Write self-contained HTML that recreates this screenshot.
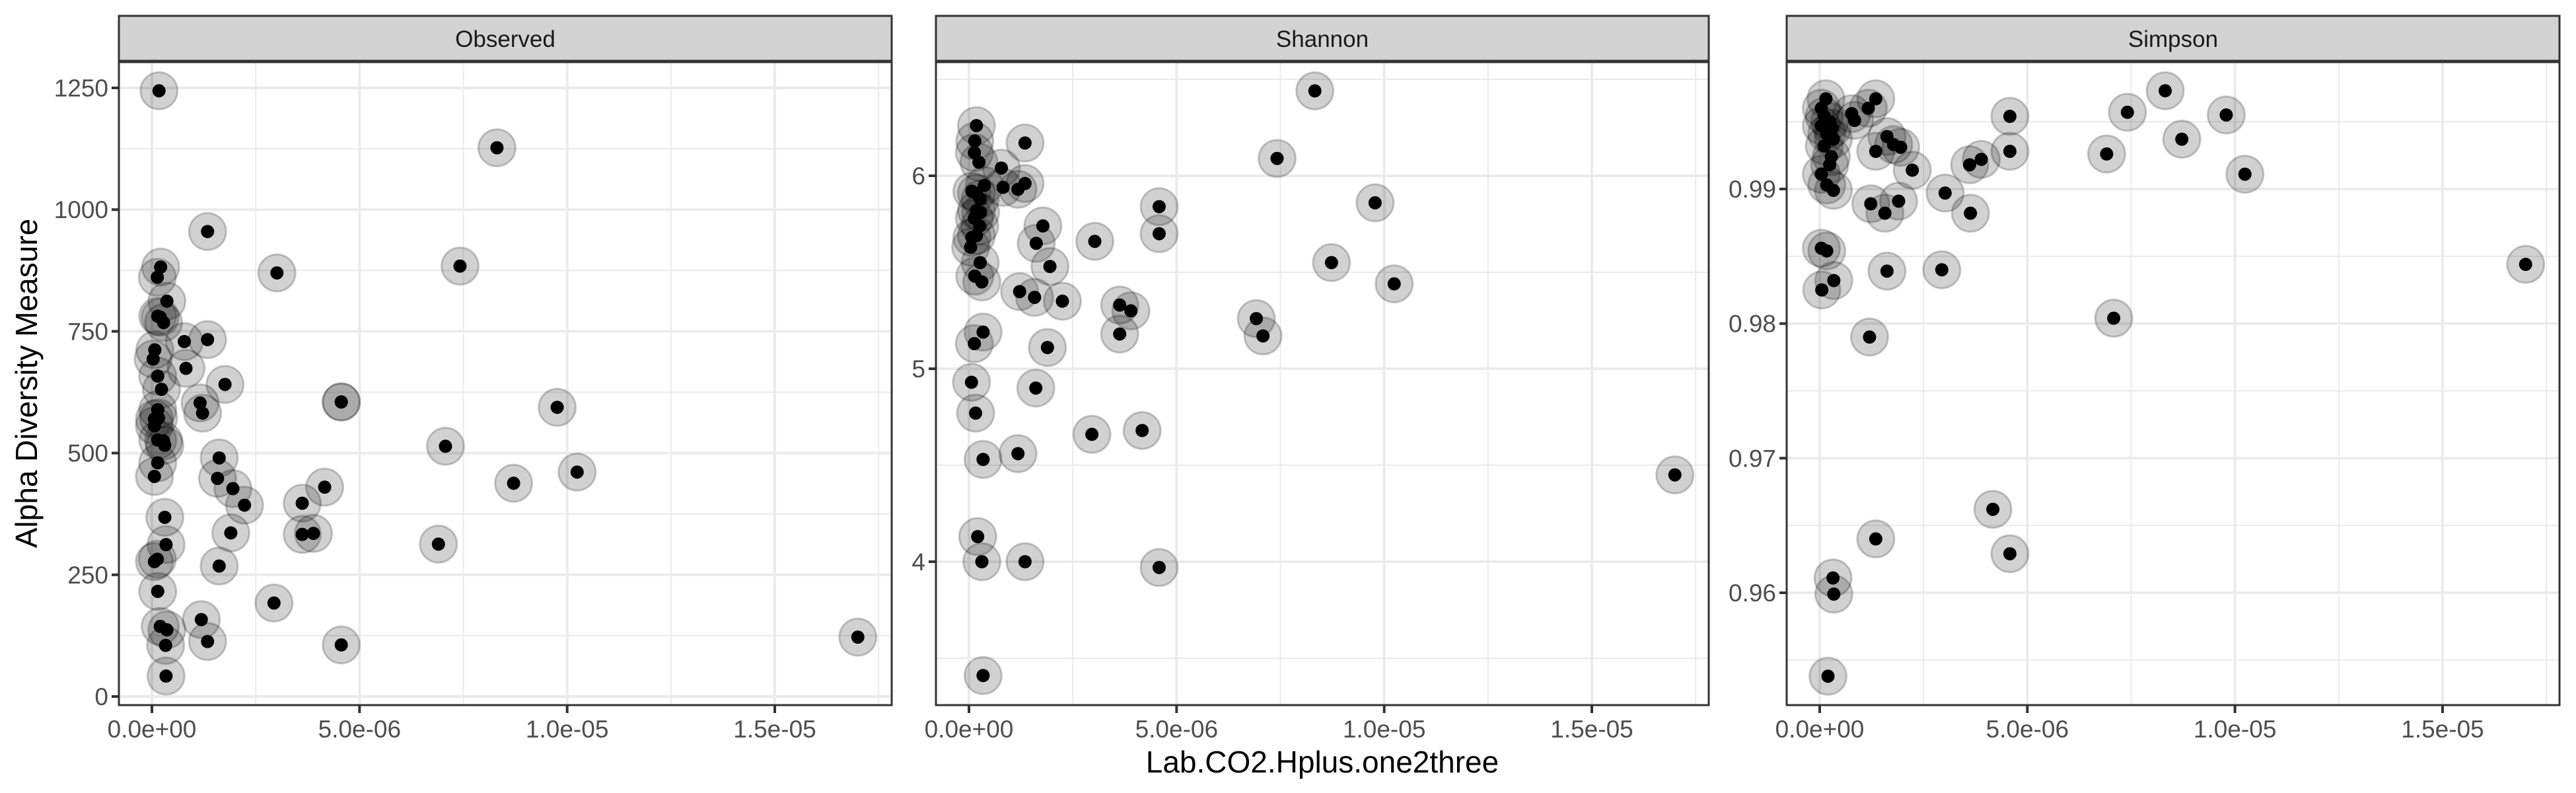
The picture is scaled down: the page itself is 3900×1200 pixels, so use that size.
<!DOCTYPE html>
<html><head><meta charset="utf-8"><style>
html,body{margin:0;padding:0;background:#fff;}
svg{display:block;font-family:"Liberation Sans",sans-serif;}
</style></head><body>
<svg id="chart" width="3900" height="1200" viewBox="0 0 3900 1200"></svg>
<script>
// x values in units of 1e-6
const obsX=[0.17,8.31,1.34,0.21,0.13,3.01,7.42,0.36,0.14,0.2,0.28,0.78,1.34,0.07,0.03,0.82,0.14,0.23,1.76,4.56,4.56,9.76,1.16,1.22,0.14,0.06,0.16,0.06,0.14,0.28,0.31,7.07,1.62,0.14,0.06,1.58,10.24,8.71,4.16,1.95,2.23,3.62,0.31,1.9,3.62,3.89,6.9,0.34,0.06,0.13,1.62,0.14,2.94,1.19,0.2,0.36,1.34,0.33,4.56,17.0,0.34];
const obsY=[1244,1127,955,882,861,870,884,812,781,779,768,729,733,712,693,674,658,631,641,605,605,594,603,582,589,570,572,556,527,525,516,514,490,480,452,448,461,438,430,427,393,397,368,336,333,335,313,312,277,282,268,216,192,158,144,137,113,105,106,122,42];
const shaX=[8.33,0.18,0.14,1.35,7.42,0.13,0.24,0.78,0.82,1.18,1.35,0.37,0.07,0.18,0.27,4.58,9.78,0.18,0.28,0.13,0.26,1.78,4.58,3.03,1.62,0.07,0.04,0.18,1.95,0.27,8.73,0.14,0.31,10.24,1.22,1.58,2.25,3.63,3.9,6.92,7.08,3.63,0.34,0.13,1.89,0.06,1.61,0.16,4.17,2.96,1.18,0.34,17.0,0.21,0.31,1.35,4.58,0.34];
const shaY=[6.44,6.26,6.18,6.17,6.09,6.12,6.07,6.04,5.94,5.93,5.96,5.95,5.92,5.91,5.88,5.84,5.86,5.82,5.81,5.78,5.74,5.74,5.70,5.66,5.65,5.68,5.63,5.69,5.53,5.55,5.55,5.48,5.45,5.44,5.40,5.37,5.35,5.33,5.30,5.26,5.17,5.18,5.19,5.13,5.11,4.93,4.90,4.77,4.68,4.66,4.56,4.53,4.45,4.13,4.00,4.00,3.97,3.41];
const simX=[8.32,7.41,9.79,4.58,1.35,1.17,0.15,0.04,0.11,0.24,0.77,0.84,0.04,0.3,0.17,0.33,1.62,1.78,1.95,0.11,8.72,1.35,4.58,6.91,3.89,3.61,0.28,0.24,2.23,10.24,0.04,0.17,0.33,3.02,1.23,1.9,1.57,3.63,0.04,0.17,17.0,1.62,2.94,0.34,0.05,7.08,1.2,4.17,4.58,1.35,0.32,0.34,0.2];
const simY=[0.9973,0.9957,0.9955,0.9954,0.9967,0.9960,0.9967,0.9960,0.9954,0.9950,0.9956,0.9951,0.9947,0.9945,0.9941,0.9937,0.9939,0.9933,0.9931,0.9932,0.9937,0.9928,0.9928,0.9926,0.9922,0.9918,0.9924,0.9918,0.9914,0.9911,0.9911,0.9903,0.9899,0.9897,0.9889,0.9891,0.9882,0.9882,0.9856,0.9854,0.9844,0.9839,0.9840,0.9832,0.9825,0.9804,0.9790,0.9662,0.9629,0.9640,0.9611,0.9599,0.9538];
const xTicks=[0,5,10,15];
const xTickLabels=["0.0e+00","5.0e-06","1.0e-05","1.5e-05"];
const obsTicks=[0,250,500,750,1000,1250];
const obsTickLabels=["0","250","500","750","1000","1250"];
const shaTicks=[4,5,6];
const shaTickLabels=["4","5","6"];
const simTicks=[0.96,0.97,0.98,0.99];
const simTickLabels=["0.96","0.97","0.98","0.99"];

const NS="http://www.w3.org/2000/svg";
const svg=document.getElementById('chart');
function mk(tag,attrs,parent){const e=document.createElementNS(NS,tag);for(const k in attrs)e.setAttribute(k,attrs[k]);(parent||svg).appendChild(e);return e;}
const TOP=94,BOT=1067,STRIP_TOP=24;
const PXPERX=943/15;
const panels=[
 {name:'observed',title:'Observed',left:180,xs:obsX,ys:obsY,ticks:obsTicks,labels:obsTickLabels,y0:0,py0:1054,scale:921/1250,minorStep:125},
 {name:'shannon',title:'Shannon',left:1417,xs:shaX,ys:shaY,ticks:shaTicks,labels:shaTickLabels,y0:6,py0:266,scale:292,minorStep:0.5},
 {name:'simpson',title:'Simpson',left:2705,xs:simX,ys:simY,ticks:simTicks,labels:simTickLabels,y0:0.99,py0:286,scale:20367,minorStep:0.005}
];
const W=1170;
panels.forEach(p=>{
  const g=mk('g',{});
  
  
  const xs=v=>p.left+50+v*PXPERX;
  const ys=v=>p.py0-(v-p.y0)*p.scale;
  const vmin=p.y0-(BOT-p.py0)/p.scale, vmax=p.y0+(p.py0-TOP)/p.scale;
  const gg=mk('g',{},g);
  
  
  const st=p.minorStep;
  for(let k=Math.ceil(vmin/st);k*st<=vmax;k++){
    const v=k*st;const isMajor=p.ticks.some(t=>Math.abs(t-v)<st/10);
    const y=ys(v);
    mk('line',{x1:p.left,x2:p.left+W,y1:y,y2:y,stroke:'#ebebeb','stroke-width':isMajor?4:2},gg);
  }
  for(let v=-2.5;v<=20;v+=2.5){
    const x=xs(v);if(x<p.left||x>p.left+W)continue;
    const isMajor=xTicks.includes(v);
    mk('line',{x1:x,x2:x,y1:TOP,y2:BOT,stroke:'#ebebeb','stroke-width':isMajor?4:2},gg);
  }
  const pg=mk('g',{},g);
  
  
  for(let i=0;i<p.xs.length;i++){
    const c=mk('circle',{cx:xs(p.xs[i]),cy:ys(p.ys[i]),r:28,fill:'rgba(0,0,0,0.18)',stroke:'rgba(0,0,0,0.2)','stroke-width':3},pg);
    
    
  }
  for(let i=0;i<p.xs.length;i++){
    const c=mk('circle',{cx:xs(p.xs[i]),cy:ys(p.ys[i]),r:10,fill:'#000'},pg);
    
    
  }
  const b=mk('rect',{x:p.left,y:TOP,width:W,height:BOT-TOP,fill:'none',stroke:'#333','stroke-width':3},g);
  
  
  const s=mk('rect',{x:p.left,y:STRIP_TOP,width:W,height:TOP-STRIP_TOP-2,fill:'#d3d3d3',stroke:'#333','stroke-width':3},g);
  
  
  const stx=mk('text',{x:p.left+W/2,y:71,'text-anchor':'middle','font-size':35,fill:'#1a1a1a'},g);
  stx.textContent=p.title;
  
  
  p.ticks.forEach((t,i)=>{
    const y=ys(t);
    mk('line',{x1:p.left-11,x2:p.left,y1:y,y2:y,stroke:'#333','stroke-width':4},g);
    const tx=mk('text',{x:p.left-16,y:y+13,'text-anchor':'end','font-size':37,fill:'#4d4d4d'},g);
    tx.textContent=p.labels[i];
    
    
  });
  xTicks.forEach((t,i)=>{
    const x=xs(t);
    mk('line',{x1:x,x2:x,y1:BOT,y2:BOT+12,stroke:'#333','stroke-width':4},g);
    const tx=mk('text',{x:x,y:1116,'text-anchor':'middle','font-size':37,fill:'#4d4d4d'},g);
    tx.textContent=xTickLabels[i];
    
    
  });
});
const xt=mk('text',{x:2002,y:1169,'text-anchor':'middle','font-size':46,fill:'#000'});
xt.textContent='Lab.CO2.Hplus.one2three';


const yt=mk('text',{x:0,y:0,'text-anchor':'middle','font-size':46,fill:'#000',transform:'translate(56,580) rotate(-90)'});
yt.textContent='Alpha Diversity Measure';


</script>
</body></html>
